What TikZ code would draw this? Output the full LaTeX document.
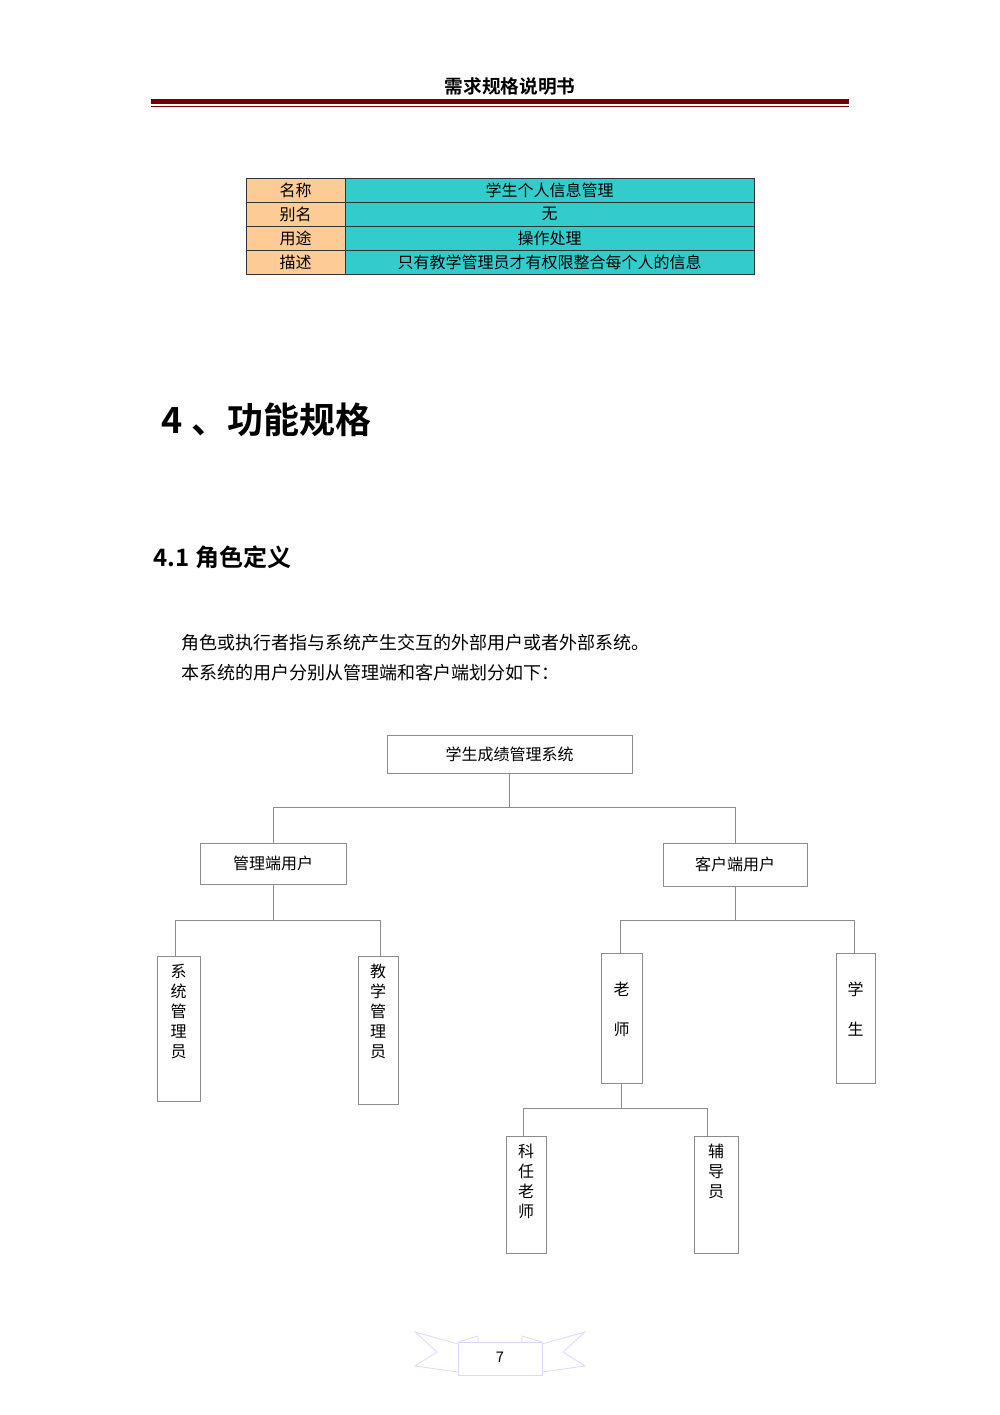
\documentclass[tikz,border=0pt]{standalone}
\usepackage{fontspec}
\setmainfont{Noto Sans CJK SC}
\newfontfamily\cjkb{Noto Sans CJK SC Bold}
\begin{document}
\begin{tikzpicture}[x=0.75pt,y=-0.75pt,
  bx/.style={draw=black!45,line width=0.6pt,inner sep=0pt},
  ln/.style={draw=black!45,line width=0.6pt},
  cell/.style={draw=black!80,line width=0.6pt,inner sep=0pt}]
\useasboundingbox (0,0) rectangle (1000,1415);
\node[font=\cjkb\fontsize{14}{16}\selectfont] (hd) at (510,86) {需求规格说明书};
\fill[red!45!black] (151,99) rectangle (849,104);
\draw[red!45!black,line width=0.6pt] (151,106.5) -- (849,106.5);
% table
\definecolor{org}{HTML}{FCCB96}\definecolor{tea}{HTML}{33CCCC}
\foreach \i/\a/\b in {0/名称/学生个人信息管理,1/别名/无,2/用途/操作处理,3/描述/只有教学管理员才有权限整合每个人的信息}{
 \node[cell,fill=org,minimum width=74.25pt,minimum height=18pt,font=\fontsize{12}{13}\selectfont] (a\i) at (295.5,{190+24*\i}) {\a};
 \node[cell,fill=tea,minimum width=306.75pt,minimum height=18pt,font=\fontsize{12}{13}\selectfont] (b\i) at (549.5,{190+24*\i}) {\b};}
\node[anchor=west,font=\cjkb\fontsize{27}{30}\selectfont] (h4) at (157,420) {4 、功能规格};
\node[anchor=west,font=\cjkb\fontsize{18}{20}\selectfont] (h41) at (149,557) {4.1 角色定义};
\node[anchor=west,font=\fontsize{13.5}{15}\selectfont] (p1) at (177,643) {角色或执行者指与系统产生交互的外部用户或者外部系统。};
\node[anchor=west,font=\fontsize{13.5}{15}\selectfont] (p2) at (177,673) {本系统的用户分别从管理端和客户端划分如下：};
% tree
\tikzset{t/.style={font=\fontsize{12}{15}\selectfont}}
\node[bx,t,minimum width=183.75pt,minimum height=28.5pt] (r) at (509.5,754) {学生成绩管理系统};
\node[bx,t,minimum width=109.5pt,minimum height=30.75pt] (m) at (273,863.5) {管理端用户};
\node[bx,t,minimum width=108pt,minimum height=32.25pt] (c) at (735,864.5) {客户端用户};
\node[bx,t,minimum width=32.25pt,minimum height=108.75pt,anchor=north] (s1) at (178.5,956) {};
\node[t,anchor=north,align=center,inner sep=0pt] at (178.5,964) {系\\统\\管\\理\\员};
\node[bx,t,minimum width=30pt,minimum height=111pt,anchor=north] (s2) at (378,956) {};
\node[t,anchor=north,align=center,inner sep=0pt] at (378,964) {教\\学\\管\\理\\员};
\node[bx,t,minimum width=30.75pt,minimum height=97.5pt,anchor=north] (ls) at (621.5,953) {};
\node[t,anchor=north,align=center,inner sep=0pt,font=\fontsize{12}{30}\selectfont] at (621.5,982) {老\\师};
\node[bx,t,minimum width=29.25pt,minimum height=97.5pt,anchor=north] (xs) at (855.5,953) {};
\node[t,anchor=north,align=center,inner sep=0pt,font=\fontsize{12}{30}\selectfont] at (855.5,982) {学\\生};
\node[bx,t,minimum width=30pt,minimum height=87.75pt,anchor=north] (k) at (526,1136) {};
\node[t,anchor=north,align=center,inner sep=0pt] at (526,1144) {科\\任\\老\\师};
\node[bx,t,minimum width=33pt,minimum height=87.75pt,anchor=north] (f) at (716,1136) {};
\node[t,anchor=north,align=center,inner sep=0pt] at (716,1144) {辅\\导\\员};
\draw[ln] (r.south) -- ++(0,34) -| (m.north);
\draw[ln] (r.south) ++(0,34) -| (c.north);
\draw[ln] (m.south) -- ++(0,36) -| (175,956);
\draw[ln] (m.south) ++(0,36) -| (380,956);
\draw[ln] (c.south) -- ++(0,34) -| (620,953);
\draw[ln] (c.south) ++(0,34) -| (854,953);
\draw[ln] (ls.south) -- ++(0,25) -| (523,1136);
\draw[ln] (ls.south) ++(0,25) -| (707,1136);
% footer ribbon
\draw[blue!15,line width=0.6pt] (458,1344) -- (415,1332) -- (437,1352) -- (415,1366) -- (458,1372);
\draw[blue!15,line width=0.6pt] (542,1344) -- (585,1332) -- (563,1352) -- (585,1366) -- (542,1372);
\draw[blue!15,line width=0.6pt] (458,1342) -- (478,1336) -- (478,1342);
\draw[blue!15,line width=0.6pt] (542,1342) -- (522,1336) -- (522,1342);
\draw[blue!15,line width=0.6pt,fill=white] (458,1342) rectangle (542,1375);
\node[font=\fontsize{11}{12}\selectfont] (pg) at (500,1357) {7};
\end{tikzpicture}
\end{document}
